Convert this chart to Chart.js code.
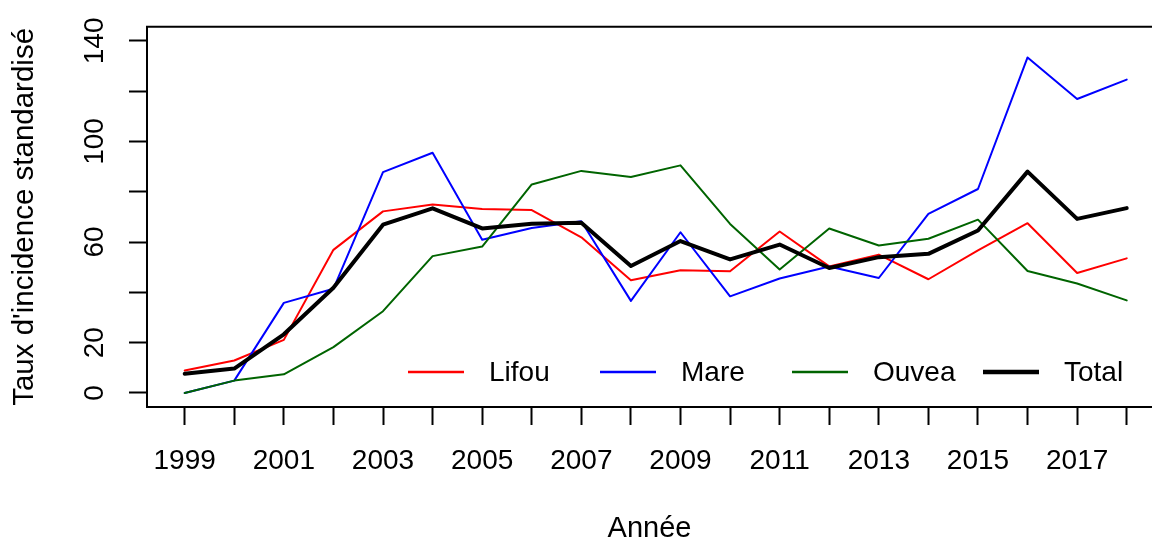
<!DOCTYPE html>
<html>
<head>
<meta charset="utf-8">
<script src="https://cdn.jsdelivr.net/npm/chart.js@4/dist/chart.umd.min.js"></script>
<style>
  html, body { margin: 0; padding: 0; background: #ffffff; }
  canvas { display: block; }
</style>
</head>
<body>
<canvas id="chart" width="1152" height="543"></canvas>
<script>
// values
const years = [1999, 2000, 2001, 2002, 2003, 2004, 2005, 2006, 2007, 2008,
               2009, 2010, 2011, 2012, 2013, 2014, 2015, 2016, 2017, 2018];
const lifou = [8.9, 12.9, 21.1, 56.9, 72.2, 74.9, 73.1, 72.7, 61.9, 44.8,
               48.8, 48.4, 64.2, 50.3, 55.0, 45.2, 56.7, 67.5, 47.7, 53.5];
const mare  = [0, 4.9, 35.8, 41.4, 87.8, 95.5, 60.9, 65.6, 68.3, 36.6,
               63.9, 38.4, 45.5, 50.3, 45.7, 71.2, 81.1, 133.4, 116.9, 124.6];
const ouvea = [0, 4.9, 7.4, 18.2, 32.5, 54.4, 58.2, 82.9, 88.3, 85.9,
               90.5, 67.2, 49.1, 65.4, 58.6, 61.3, 68.9, 48.5, 43.5, 36.8];
const total = [7.6, 9.7, 23.3, 41.8, 66.9, 73.4, 65.4, 67.3, 67.7, 50.5,
               60.4, 53.1, 59.0, 49.7, 54.0, 55.3, 64.6, 88.0, 69.2, 73.5];

const xTickLabels = ['1999', '2001', '2003', '2005', '2007', '2009', '2011', '2013', '2015', '2017'];
const yTicks = [0, 20, 40, 60, 80, 100, 120, 140];
const yTickLabels = ['0', '20', '', '60', '', '100', '', '140'];

const FONT = "'Liberation Sans', Arial, sans-serif";

const series = [
  { label: 'Lifou', data: lifou, color: '#ff0000', width: 2, order: 4 },
  { label: 'Mare', data: mare, color: '#0000ff', width: 2, order: 3 },
  { label: 'Ouvea', data: ouvea, color: '#006400', width: 2, order: 2 },
  { label: 'Total', data: total, color: '#000000', width: 4, order: 1 }
];

// R-style box top line + horizontal legend at bottom right
const rStyle = {
  id: 'rStyle',
  afterDatasetsDraw(chart) {
    const { ctx, chartArea } = chart;
    ctx.save();
    ctx.strokeStyle = '#000';
    ctx.lineWidth = 2;
    ctx.beginPath();
    ctx.moveTo(chartArea.left - 1, chartArea.top);
    ctx.lineTo(chartArea.right + 2, chartArea.top);
    ctx.stroke();

    const ly = chartArea.bottom - 35;
    const pos = [261, 453, 645, 836]; // line start, relative to left edge
    ctx.font = '28px ' + FONT;
    ctx.textBaseline = 'middle';
    ctx.textAlign = 'left';
    series.forEach((s, i) => {
      const x0 = chartArea.left + pos[i];
      ctx.strokeStyle = s.color;
      ctx.lineWidth = s.width === 4 ? 4.5 : 2.5;
      ctx.beginPath();
      ctx.moveTo(x0, ly);
      ctx.lineTo(x0 + 56, ly);
      ctx.stroke();
      ctx.fillStyle = '#000';
      ctx.fillText(s.label, x0 + 81, ly + 1);
    });
    ctx.restore();
  }
};

new Chart(document.getElementById('chart'), {
  type: 'line',
  data: {
    datasets: series.map(s => ({
      label: s.label,
      data: years.map((y, i) => ({ x: y, y: s.data[i] })),
      borderColor: s.color,
      borderWidth: s.width,
      pointRadius: 0,
      tension: 0,
      fill: false,
      order: s.order,
      borderJoinStyle: 'round',
      borderCapStyle: 'round'
    }))
  },
  options: {
    responsive: false,
    animation: false,
    layout: { padding: { top: 26, left: 0, right: 0, bottom: 0 } },
    plugins: {
      legend: { display: false },
      tooltip: { enabled: false }
    },
    scales: {
      x: {
        type: 'linear',
        min: 1998.24,
        max: 2018.51,
        afterFit: (scale) => { scale.height = 136; },
        afterBuildTicks: (scale) => { scale.ticks = years.map(v => ({ value: v })); },
        border: { display: true, color: '#000', width: 2 },
        grid: {
          display: true,
          drawOnChartArea: false,
          drawTicks: true,
          tickLength: 18,
          tickWidth: 2,
          tickColor: '#000'
        },
        ticks: {
          autoSkip: false,
          maxRotation: 0,
          minRotation: 0,
          padding: 19,
          color: '#000',
          font: { family: FONT, size: 28 },
          callback: (v) => xTickLabels.includes(String(v)) ? String(v) : ''
        },
        title: {
          display: true,
          text: 'Année',
          color: '#000',
          font: { family: FONT, size: 29, lineHeight: 1 },
          padding: { top: 0, bottom: 0 }
        }
      },
      y: {
        type: 'linear',
        min: -5.6,
        max: 145.6,
        afterFit: (scale) => { scale.width = 147; },
        afterBuildTicks: (scale) => { scale.ticks = yTicks.map(v => ({ value: v })); },
        border: { display: true, color: '#000', width: 2 },
        grid: {
          display: true,
          drawOnChartArea: false,
          drawTicks: true,
          tickLength: 18,
          tickWidth: 2,
          tickColor: '#000'
        },
        ticks: {
          autoSkip: false,
          minRotation: 90,
          maxRotation: 90,
          crossAlign: 'center',
          padding: 10,
          color: '#000',
          font: { family: FONT, size: 28 },
          callback: (v) => {
            const i = yTicks.indexOf(v);
            return i >= 0 ? yTickLabels[i] : '';
          }
        },
        title: {
          display: true,
          text: "Taux d'incidence standardisé",
          color: '#000',
          font: { family: FONT, size: 29.5, lineHeight: 1 },
          padding: { top: 10, bottom: 0 }
        }
      }
    }
  },
  plugins: [rStyle]
});
</script>
</body>
</html>
